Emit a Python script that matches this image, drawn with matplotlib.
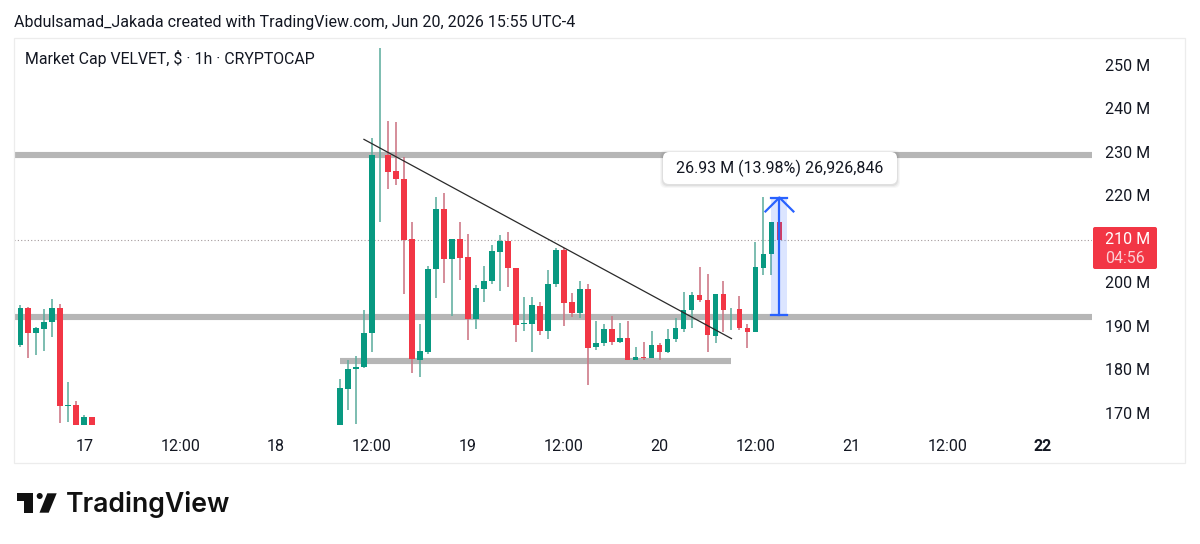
import matplotlib
matplotlib.use('Agg')
from matplotlib import pyplot as plt
from matplotlib.patches import FancyBboxPatch, Polygon, Circle, Rectangle

plt.rcParams['font.family'] = ['Roboto', 'DejaVu Sans']

GREEN = '#089981'
RED = '#F23645'
GREEN_WICK = '#5fae9f'
RED_WICK = '#cc7583'
BLUE = '#2962FF'
GRAY = '#b6b6b6'
TEXT = '#131722'

# hours counted from Jun 17 00:00, feed has a gap on the 17th/18th
hours = list(range(-9, 2)) + list(range(32, 88))

# market cap in millions
opens = [181.7, 185.6, 194.1, 188.4, 189.4, 190.9, 194.1, 171.7, 171.8, 167.2, 169.0,
         167.2, 175.6, 180.0, 180.6, 188.3, 229.2, 229.2, 225.6, 223.7, 209.9, 182.2,
         184.1, 203.0, 216.9, 205.3, 209.9, 205.8, 191.6, 198.6, 200.3, 207.1, 209.6,
         203.4, 190.4, 190.5, 194.7, 188.9, 199.7, 207.5, 195.4, 192.9, 198.5, 185.1,
         186.0, 189.4, 186.3, 187.2, 182.1, 182.9, 182.6, 185.6, 184.1, 186.9, 189.4,
         193.7, 197.1, 196.0, 187.8, 197.3, 193.8, 193.9, 189.6, 188.6, 203.4, 206.6,
         213.9]
highs = [185.9, 194.8, 194.3, 189.8, 193.9, 196.1, 195.1, 177.1, 172.7, 169.5, 169.0,
         177.9, 182.2, 183.1, 193.7, 233.1, 253.8, 237.2, 236.8, 228.9, 214.0, 190.4,
         203.8, 219.6, 220.5, 209.9, 213.8, 211.1, 199.4, 203.8, 208.6, 210.9, 211.5,
         203.4, 196.7, 196.7, 195.4, 202.9, 207.9, 207.9, 197.5, 200.3, 199.6, 191.2,
         190.4, 192.3, 190.8, 191.2, 185.1, 186.3, 188.9, 186.0, 189.3, 191.8, 197.8,
         197.8, 203.5, 201.9, 197.3, 200.4, 194.1, 196.9, 190.5, 209.4, 219.6, 213.9,
         213.9]
lows = [181.7, 185.2, 182.7, 183.3, 184.3, 187.4, 167.6, 168.0, 167.2, 167.2, 167.2,
        167.2, 170.7, 167.5, 180.3, 184.1, 214.0, 221.6, 222.4, 197.4, 179.3, 178.3,
        183.5, 196.4, 199.8, 192.3, 200.6, 186.8, 189.4, 195.6, 199.7, 198.0, 199.0,
        186.4, 188.9, 184.1, 187.9, 186.9, 199.0, 190.1, 192.1, 191.8, 176.4, 184.5,
        185.5, 185.7, 186.1, 182.1, 182.1, 182.1, 182.6, 182.2, 183.7, 186.3, 188.7,
        189.5, 195.4, 184.0, 186.0, 188.6, 189.1, 189.1, 185.0, 188.6, 201.7, 201.7,
        209.8]
closes = [185.9, 194.1, 188.3, 189.5, 190.9, 194.1, 171.5, 171.9, 167.2, 169.0, 167.2,
          175.7, 180.1, 180.6, 188.5, 229.3, 229.3, 225.5, 223.7, 209.8, 182.3, 184.3,
          203.1, 216.9, 205.3, 209.9, 205.6, 191.6, 198.7, 200.4, 207.2, 209.6, 203.3,
          190.3, 190.6, 194.8, 188.9, 199.7, 207.5, 195.2, 192.9, 198.5, 185.0, 186.2,
          189.3, 186.3, 187.2, 182.1, 182.9, 182.7, 185.6, 184.1, 186.9, 189.5, 193.7,
          197.1, 196.0, 187.9, 197.3, 193.7, 194.0, 189.5, 188.6, 203.5, 206.6, 213.9,
          209.8]

price_ticks = [170, 180, 190, 200, 220, 230, 240, 250]
price_tick_labels = ['170 M', '180 M', '190 M', '200 M', '220 M', '230 M', '240 M', '250 M']
time_ticks = [0, 12, 24, 36, 48, 60, 72, 84, 96, 108, 120]
time_labels = ['17', '12:00', '18', '12:00', '19', '12:00', '20', '12:00', '21', '12:00', '22']

resistance = 229.4
support = 192.1
low_support = 182.0
low_support_span = [32, 81]
trend_hours = [35, 81]
trend_values = [232.9, 187.1]
last_price = 209.8
range_hours = [86, 87, 88]
range_values = [192.6, 219.53]

W, H = 1200, 544
fig = plt.figure(figsize=(W / 100, H / 100), dpi=100, facecolor='white')

# pixel-space layer for everything around the chart
ov = fig.add_axes([0, 0, 1, 1], zorder=3)
ov.set_xlim(0, W)
ov.set_ylim(H, 0)
ov.axis('off')
ov.patch.set_alpha(0)

ov.add_patch(Rectangle((14, 38), 1171, 425, fill=False, ec='#ececec', lw=0.9))

ax = fig.add_axes([14 / W, 1 - 431 / H, 1078 / W, 393 / H], zorder=2)
ax.patch.set_alpha(0)
ax.set_xlim((14 - 84.3) / 7.99, (1092 - 84.3) / 7.99)
ax.set_ylim(165.86, 256.2)
for side in ax.spines.values():
    side.set_visible(False)

ax.set_xticks(time_ticks)
ax.set_xticklabels(time_labels)
ax.set_yticks(price_ticks)
ax.set_yticklabels(price_tick_labels)
ax.yaxis.tick_right()
ax.tick_params(axis='both', length=0, labelsize=11.5, labelcolor=TEXT)
ax.tick_params(axis='y', pad=9.4)
ax.tick_params(axis='x', pad=5.5)
ax.get_xticklabels()[-1].set_fontweight('bold')

# levels and last price
ax.axhline(resistance, color=GRAY, lw=4.4, zorder=1, solid_capstyle='butt')
ax.axhline(support, color=GRAY, lw=4.4, zorder=1, solid_capstyle='butt')
ax.plot(low_support_span, [low_support, low_support], color=GRAY, lw=4.4, zorder=1,
        solid_capstyle='butt')
ax.axhline(last_price, color='#a39a9c', lw=0.8, ls=(0, (1, 2)), zorder=1)

# candles
colors = [GREEN if c >= o else RED for o, c in zip(opens, closes)]
wick_colors = [GREEN_WICK if c >= o else RED_WICK for o, c in zip(opens, closes)]
ax.vlines(hours, lows, highs, colors=wick_colors, lw=1.15, zorder=2)
bottoms = [min(o, c) for o, c in zip(opens, closes)]
heights = [abs(c - o) for o, c in zip(opens, closes)]
ax.bar(hours, heights, bottom=bottoms, width=0.72, color=colors, lw=0, zorder=3)

ax.plot(trend_hours, trend_values, color='#2a2a2a', lw=0.9, zorder=4)

# price range tool
ax.fill_between([range_hours[0], range_hours[2]], range_values[0], range_values[1],
                color=BLUE, alpha=0.16, lw=0, zorder=4)
ax.plot([range_hours[1], range_hours[1]], range_values, color=BLUE, lw=1.6, zorder=5)
ax.plot([range_hours[0], range_hours[2]], [range_values[0], range_values[0]], color=BLUE, lw=1.6, zorder=5)
ax.plot([range_hours[0], range_hours[2]], [range_values[1], range_values[1]], color=BLUE, lw=1.6, zorder=5)
ax.plot([range_hours[1] - 1.75, range_hours[1], range_hours[1] + 1.75],
        [range_values[1] - 3.2, range_values[1], range_values[1] - 3.2], color=BLUE, lw=1.6, zorder=5)

# header and legend
ov.text(14, 22, 'Abdulsamad_Jakada created with TradingView.com, Jun 20, 2026 15:55 UTC-4',
        fontsize=11.5, color=TEXT, va='center', ha='left')
ov.text(25, 58.5, 'Market Cap VELVET, $ · 1h · CRYPTOCAP', fontsize=11.43, color=TEXT,
        va='center', ha='left')

# range tooltip with a soft shadow
for grow, shade in [(3, 0.03), (2, 0.04), (1, 0.06)]:
    ov.add_patch(FancyBboxPatch((667 - grow, 156 - grow + 1), 226 + 2 * grow, 24 + 2 * grow,
                                boxstyle='round,pad=4,rounding_size=6', fc='black', ec='none',
                                alpha=shade, zorder=5))
ov.add_patch(FancyBboxPatch((667, 156), 226, 24, boxstyle='round,pad=4,rounding_size=6',
                            fc='white', ec='none', zorder=6))
ov.text(779.5, 168.5, '26.93 M (13.98%) 26,926,846', fontsize=11.55, color=TEXT,
        ha='center', va='center', zorder=7)

# last price tag
ov.add_patch(FancyBboxPatch((1095, 229), 60, 38, boxstyle='round,pad=2,rounding_size=2',
                            fc=RED, ec='none', zorder=6))
ov.text(1105, 239.5, '210 M', fontsize=11.5, color='white', ha='left', va='center', zorder=7)
ov.text(1105, 258.5, '04:56', fontsize=11.5, color='#fbd0d5', ha='left', va='center', zorder=7)

# TradingView logo
ov.add_patch(Polygon([(16.7, 493.3), (32.7, 493.3), (32.7, 512.7), (24, 512.7), (24, 501), (16.7, 501)],
                     fc='#111111', ec='none'))
ov.add_patch(Circle((39.7, 496), 3, fc='#111111', ec='none'))
ov.add_patch(Polygon([(47.3, 493.3), (56.7, 493.3), (48.7, 512.7), (39.5, 512.7)],
                     fc='#111111', ec='none'))
ov.text(66, 504, 'TradingView', fontsize=19.2, fontweight='semibold', family=['Inter', 'DejaVu Sans'],
        color='#111111', ha='left', va='center')

fig.savefig('out.png', dpi=100)
